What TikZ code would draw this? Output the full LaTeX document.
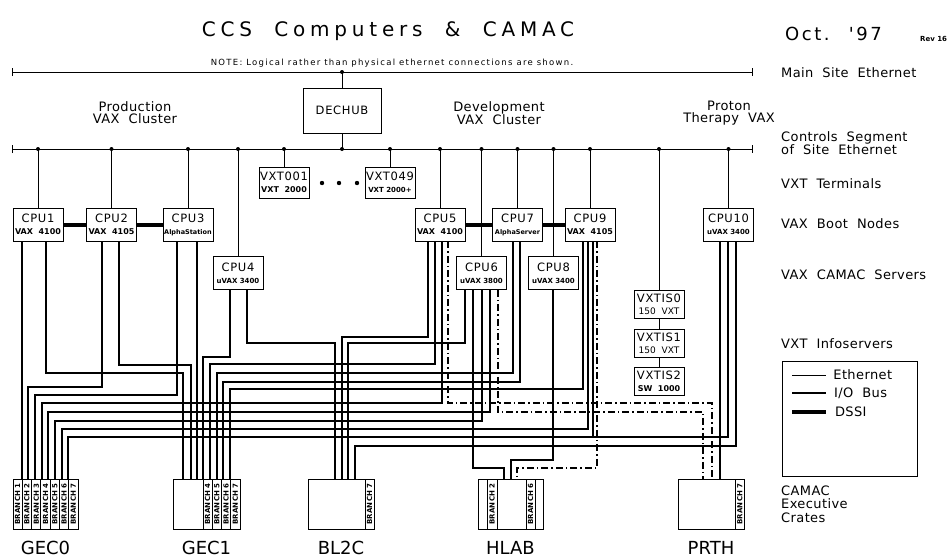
\documentclass[tikz,border=0pt]{standalone}
\usepackage{fontspec}
\setmainfont{DejaVu Sans}
\usetikzlibrary{arrows.meta,positioning}

% font families (CAD lettering is wide and spaced)
\newfontfamily\cadplain{DejaVu Sans}
\newfontfamily\cadtitle[LetterSpace=24]{DejaVu Sans}
\newfontfamily\caddate[LetterSpace=14]{DejaVu Sans}
\newfontfamily\cadnote[LetterSpace=15]{DejaVu Sans}
\newfontfamily\cadmid[LetterSpace=3]{DejaVu Sans}
\newfontfamily\cadwide[LetterSpace=6]{DejaVu Sans}
\newcommand\titlefont{\cadtitle\fontsize{20}{20}\selectfont}
\newcommand\datefont{\caddate\fontsize{18}{18}\selectfont}
\newcommand\revfont{\cadplain\bfseries\fontsize{7}{7}\selectfont}
\newcommand\notefont{\cadnote\fontsize{8.5}{8.5}\selectfont}
\newcommand\midfont{\cadmid\fontsize{13}{12}\selectfont}
\newcommand\bigfont{\cadplain\fontsize{18}{18}\selectfont}
\newcommand\boxfont{\cadwide\fontsize{11.5}{12}\selectfont}
\newcommand\subfont{\cadplain\bfseries\fontsize{8}{12}\selectfont}
\newcommand\midsub{\cadplain\bfseries\fontsize{7}{12}\selectfont}
\newcommand\tinysub{\cadplain\bfseries\fontsize{6.5}{12}\selectfont}
\newcommand\regsub{\cadplain\fontsize{9}{12}\selectfont}
\newcommand\brfont{\cadmid\bfseries\fontsize{7}{7}\selectfont}

\begin{document}
\begin{tikzpicture}[x=1pt, y=-1pt,
  eth/.style={line width=0.8pt},
  iobus/.style={line width=2.1pt},
  dssi/.style={line width=4pt},
  dashdot/.style={line width=2.1pt, dash pattern=on 7pt off 3pt on 1.5pt off 3pt},
  busend/.style={{Bar[width=8pt]}-{Bar[width=8pt]}},
  unit/.style={draw, line width=0.8pt, fill=white, inner sep=0pt, align=center, minimum width=50pt, font=\boxfont},
  crate/.style={draw, line width=0.8pt, minimum width=#1, minimum height=50pt, inner sep=0pt},
  branch/.style={draw, line width=0.8pt, rotate=90, minimum width=50pt, minimum height=#1, inner sep=0pt, font=\brfont},
  branch/.default=9.25pt,
  side/.style={anchor=west, inner sep=0pt, align=left, font=\midfont},
]
  \useasboundingbox (0,0) rectangle (950,558);

  % heading
  \node[font=\titlefont] (title) at (388,31) {CCS~ Computers~ \&~ CAMAC};
  \node[anchor=west, inner sep=0pt, font=\datefont] (date) at (785,34) {Oct.~ '97};
  \node[anchor=west, inner sep=0pt, font=\revfont] (rev) at (920,39) {Rev 16};
  \node[font=\notefont] (note) at (392,63) {NOTE: Logical rather than physical ethernet connections are shown.};

  % ethernet segments
  \coordinate (mainL) at (12,72);
  \coordinate (mainR) at (753,72);
  \coordinate (segL) at (12,149);
  \coordinate (segR) at (753,149);
  \draw[eth, busend] (mainL) -- (mainR);
  \draw[eth, busend] (segL) -- (segR);

  % cluster titles
  \node[font=\midfont, align=center] (prod) at (135,113) {Production\\VAX~ Cluster};
  \node[font=\midfont, align=center] (devel) at (499,113) {Development\\VAX~ Cluster};
  \node[font=\midfont, align=center] (proton) at (729,113) {Proton\\Therapy~ VAX};

  % row labels on the right
  \node[side] (lblmain) at (781,73) {Main~ Site~ Ethernet};
  \node[side] (lblseg) at (781,143) {Controls~ Segment\\of~ Site~ Ethernet};
  \node[side] (lblvxt) at (781,184) {VXT~ Terminals};
  \node[side] (lblboot) at (781,224) {VAX~ Boot~ Nodes};
  \node[side] (lblserv) at (781,275) {VAX~ CAMAC~ Servers};
  \node[side] (lblinfo) at (781,344) {VXT~ Infoservers};
  \node[side, font=\cadmid\fontsize{13}{13.5}\selectfont] (lblcrate) at (781,504) {CAMAC\\Executive\\Crates};

  % hub and terminals
  \node[unit, minimum width=78pt, minimum height=45pt] (dechub) at (342,110.5) {DECHUB};
  \foreach \n/\x/\s/\t/\f in {vxt001/284/VXT001/VXT~~2000/\subfont, vxt049/390/VXT049/VXT~2000+/\midsub}
    \node[unit, minimum height=31pt] (\n) at (\x,182.5) {\s\\{\f\t}};
  \foreach \x in {322,339,357}
    \fill (\x,183) circle (2.2pt);

  % boot nodes and camac servers
  \foreach \n/\x/\y/\s/\t/\f in {
      cpu1/38/224.5/CPU1/VAX~~4100/\subfont,
      cpu2/111.5/224.5/CPU2/VAX~~4105/\subfont,
      cpu3/188/224.5/CPU3/AlphaStation/\tinysub,
      cpu4/238/273/CPU4/uVAX~3400/\midsub,
      cpu5/440/224.5/CPU5/VAX~~4100/\subfont,
      cpu6/481.5/273/CPU6/uVAX~3800/\midsub,
      cpu7/517.5/224.5/CPU7/AlphaServer/\tinysub,
      cpu8/553.5/273/CPU8/uVAX~3400/\midsub,
      cpu9/590/224.5/CPU9/VAX~~4105/\subfont,
      cpu10/728.5/224.5/CPU10/uVAX~3400/\midsub}
    \node[unit, minimum height=33pt] (\n) at (\x,\y) {\s\\{\f\t}};

  % infoservers
  \foreach \n/\y/\s/\t/\f in {vxtis0/304.5/VXTIS0/150~~VXT/\regsub, vxtis1/343/VXTIS1/150~~VXT/\regsub, vxtis2/381.5/VXTIS2/SW~~1000/\subfont}
    \node[unit, minimum height=28pt] (\n) at (659,\y) {\s\\{\f\t}};

  % ethernet drops
  \foreach \n in {cpu1,cpu2,cpu3,cpu4,vxt001,vxt049,cpu5,cpu6,cpu7,cpu8,cpu9,vxtis0,cpu10} {
    \draw[eth] (\n.north) -- (\n.north |- segL);
    \fill (\n.north |- segL) circle (2pt);
  }
  \draw[eth] (dechub.north) -- (dechub.north |- mainL);
  \fill (dechub.north |- mainL) circle (2pt);
  \draw[eth] (dechub.south) -- (dechub.south |- segL);
  \fill (dechub.south |- segL) circle (2pt);
  \draw[eth] (vxtis0.south) -- (vxtis1.north) (vxtis1.south) -- (vxtis2.north);

  % DSSI links
  \draw[dssi] (cpu1.east) -- (cpu2.west) (cpu2.east) -- (cpu3.west);
  \draw[dssi] (cpu5.east) -- (cpu7.west) (cpu7.east) -- (cpu9.west);

  % crates
  \node[crate=65pt] (gec0) at (45.5,504) {};
  \node[crate=67pt] (gec1) at (206.5,504) {};
  \node[crate=66pt] (bl2c) at (341,504) {};
  \node[crate=65pt] (hlab) at (510.5,504) {};
  \node[crate=66pt] (prth) at (711,504) {};
  \foreach \k in {1,...,7}
    \node[branch=9.29pt] (gec0b\k) at ({13+9.29*(\k-0.5)},504) {BRANCH \k};
  \foreach \k [count=\i] in {4,...,7}
    \node[branch] (gec1b\k) at ({203+9.25*(\i-0.5)},504) {BRANCH \k};
  \node[branch=9pt] (bl2cb7) at (369.5,504) {BRANCH 7};
  \node[branch=10pt] (hlabb2) at (492,504) {BRANCH 2};
  \node[branch=9pt] (hlabb6) at (530.5,504) {BRANCH 6};
  \node[branch=8.5pt] (prthb7) at (739.75,504) {BRANCH 7};
  \foreach \n/\t in {gec0/GEC0, gec1/GEC1, bl2c/BL2C, hlab/HLAB, prth/PRTH}
    \node[font=\bigfont, below=8pt of \n] (\n name) {\t};

  % i/o bus cables: cpu, x at cpu, turn y, crate, x at crate
  \foreach \a/\xa/\y/\b/\xb in {
      cpu1/22/300/gec0/22, cpu1/46/373/gec1/183,
      cpu2/102/387/gec0/28, cpu2/119/365/gec1/191,
      cpu3/177/395/gec0/35, cpu3/197/300/gec1/197,
      cpu4/230/357/gec1/203, cpu4/247/343/bl2c/335,
      cpu5/428/337/bl2c/342, cpu5/435/364/gec1/210, cpu5/442/403/gec0/42,
      cpu6/465/343/bl2c/348, cpu6/473/468/hlab/504, cpu6/482/421/gec0/55, cpu6/490/412/gec0/48,
      cpu7/513/373/gec1/217, cpu7/520/382/gec1/223,
      cpu8/553/460/hlab/511,
      cpu9/583/389/gec1/230, cpu9/588/429/gec0/62,
      cpu10/720/300/prth/720, cpu10/728/437/gec0/68, cpu10/736/446/bl2c/355}
    \draw[iobus] (\a.south -| \xa,0) |- (\xb,\y) -- (\b.north -| \xb,0);
  \draw[iobus] (cpu9.south -| 593,0) -- (593,437);

  % dash-dot cables
  \foreach \a/\xa/\y/\b/\xb in {cpu5/448/403/prth/712, cpu6/498/412/prth/703, cpu9/597/468/hlab/517}
    \draw[dashdot] (\a.south -| \xa,0) |- (\xb,\y) -- (\b.north -| \xb,0);

  % legend
  \node[draw, line width=0.8pt, anchor=north west, minimum width=135pt, minimum height=115pt, inner sep=0pt] (legend) at (782,361) {};
  \draw[eth] ([xshift=10pt, yshift=-14pt]legend.north west) -- ++(34,0) node[side, xshift=7pt] (legeth) {Ethernet};
  \draw[iobus] ([xshift=10pt, yshift=-32pt]legend.north west) -- ++(34,0) node[side, xshift=7pt] (legio) {I/O~ Bus};
  \draw[dssi] ([xshift=10pt, yshift=-51pt]legend.north west) -- ++(34,0) node[side, xshift=7pt] (legdssi) {DSSI};
\end{tikzpicture}
\end{document}
